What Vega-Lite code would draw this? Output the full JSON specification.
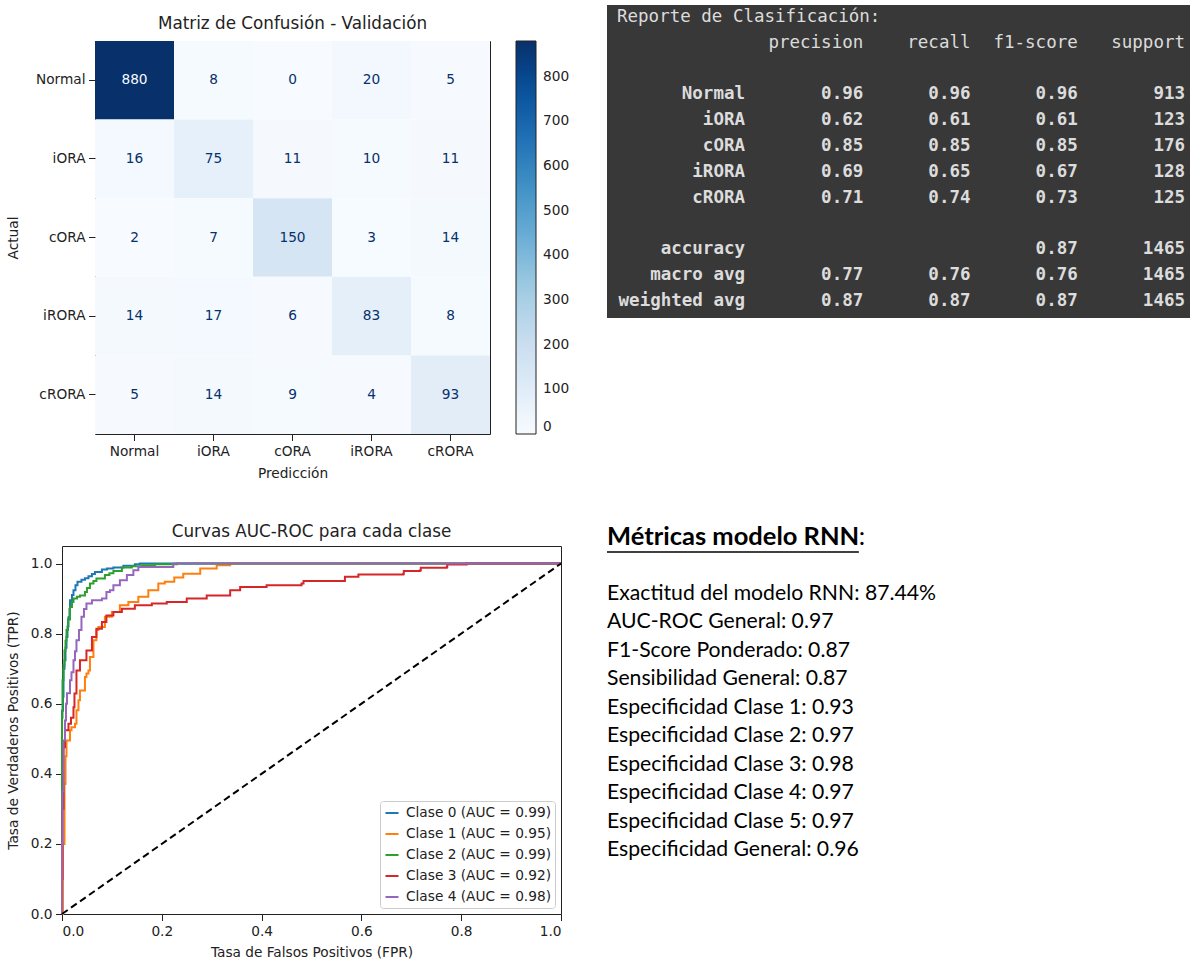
{
  "$schema": "https://vega.github.io/schema/vega-lite/v6.json",
  "padding": {"left": 4, "top": 5, "right": 0, "bottom": 0},
  "background": "white",
  "spacing": 35,
  "resolve": {"scale": {"color": "independent"}, "legend": {"color": "independent"}},
  "config": {
    "font": "DejaVu Sans",
    "view": {"stroke": null},
    "axis": {"labelFont": "DejaVu Sans", "titleFont": "DejaVu Sans", "labelColor": "#222", "titleColor": "#222", "tickColor": "#222", "domain": false, "grid": false, "labelFontSize": 13.7, "titleFontSize": 13.7, "titleFontWeight": "normal", "tickSize": 6.5, "labelPadding": 3.5},
    "title": {"font": "DejaVu Sans", "fontSize": 16.8, "fontWeight": "normal", "color": "#222"},
    "legend": {"labelFont": "DejaVu Sans", "labelFontSize": 13.7, "labelColor": "#222"}
  },
  "datasets": {
    "vacio": [],
    "confusion": [
      {"actual": "Normal", "prediccion": "Normal", "conteo": 880},
      {"actual": "Normal", "prediccion": "iORA", "conteo": 8},
      {"actual": "Normal", "prediccion": "cORA", "conteo": 0},
      {"actual": "Normal", "prediccion": "iRORA", "conteo": 20},
      {"actual": "Normal", "prediccion": "cRORA", "conteo": 5},
      {"actual": "iORA", "prediccion": "Normal", "conteo": 16},
      {"actual": "iORA", "prediccion": "iORA", "conteo": 75},
      {"actual": "iORA", "prediccion": "cORA", "conteo": 11},
      {"actual": "iORA", "prediccion": "iRORA", "conteo": 10},
      {"actual": "iORA", "prediccion": "cRORA", "conteo": 11},
      {"actual": "cORA", "prediccion": "Normal", "conteo": 2},
      {"actual": "cORA", "prediccion": "iORA", "conteo": 7},
      {"actual": "cORA", "prediccion": "cORA", "conteo": 150},
      {"actual": "cORA", "prediccion": "iRORA", "conteo": 3},
      {"actual": "cORA", "prediccion": "cRORA", "conteo": 14},
      {"actual": "iRORA", "prediccion": "Normal", "conteo": 14},
      {"actual": "iRORA", "prediccion": "iORA", "conteo": 17},
      {"actual": "iRORA", "prediccion": "cORA", "conteo": 6},
      {"actual": "iRORA", "prediccion": "iRORA", "conteo": 83},
      {"actual": "iRORA", "prediccion": "cRORA", "conteo": 8},
      {"actual": "cRORA", "prediccion": "Normal", "conteo": 5},
      {"actual": "cRORA", "prediccion": "iORA", "conteo": 14},
      {"actual": "cRORA", "prediccion": "cORA", "conteo": 9},
      {"actual": "cRORA", "prediccion": "iRORA", "conteo": 4},
      {"actual": "cRORA", "prediccion": "cRORA", "conteo": 93}
    ],
    "reporte": [
      {"clase": "Normal", "precision": 0.96, "recall": 0.96, "f1-score": 0.96, "support": 913},
      {"clase": "iORA", "precision": 0.62, "recall": 0.61, "f1-score": 0.61, "support": 123},
      {"clase": "cORA", "precision": 0.85, "recall": 0.85, "f1-score": 0.85, "support": 176},
      {"clase": "iRORA", "precision": 0.69, "recall": 0.65, "f1-score": 0.67, "support": 128},
      {"clase": "cRORA", "precision": 0.71, "recall": 0.74, "f1-score": 0.73, "support": 125},
      {"clase": "accuracy", "f1-score": 0.87, "support": 1465},
      {"clase": "macro avg", "precision": 0.77, "recall": 0.76, "f1-score": 0.76, "support": 1465},
      {"clase": "weighted avg", "precision": 0.87, "recall": 0.87, "f1-score": 0.87, "support": 1465}
    ],
    "metricas": [
      {"metrica": "Exactitud del modelo RNN", "valor": "87.44%"},
      {"metrica": "AUC-ROC General", "valor": "0.97"},
      {"metrica": "F1-Score Ponderado", "valor": "0.87"},
      {"metrica": "Sensibilidad General", "valor": "0.87"},
      {"metrica": "Especificidad Clase 1", "valor": "0.93"},
      {"metrica": "Especificidad Clase 2", "valor": "0.97"},
      {"metrica": "Especificidad Clase 3", "valor": "0.98"},
      {"metrica": "Especificidad Clase 4", "valor": "0.97"},
      {"metrica": "Especificidad Clase 5", "valor": "0.97"},
      {"metrica": "Especificidad General", "valor": "0.96"}
    ],
    "roc": [
      {"clase": "Clase 0 (AUC = 0.99)", "fpr": 0, "tpr": 0},
      {"clase": "Clase 0 (AUC = 0.99)", "fpr": 0, "tpr": 0.58},
      {"clase": "Clase 0 (AUC = 0.99)", "fpr": 0.002, "tpr": 0.62},
      {"clase": "Clase 0 (AUC = 0.99)", "fpr": 0.003, "tpr": 0.7},
      {"clase": "Clase 0 (AUC = 0.99)", "fpr": 0.005, "tpr": 0.724},
      {"clase": "Clase 0 (AUC = 0.99)", "fpr": 0.007, "tpr": 0.76},
      {"clase": "Clase 0 (AUC = 0.99)", "fpr": 0.009, "tpr": 0.79},
      {"clase": "Clase 0 (AUC = 0.99)", "fpr": 0.011, "tpr": 0.82},
      {"clase": "Clase 0 (AUC = 0.99)", "fpr": 0.013, "tpr": 0.847},
      {"clase": "Clase 0 (AUC = 0.99)", "fpr": 0.015, "tpr": 0.87},
      {"clase": "Clase 0 (AUC = 0.99)", "fpr": 0.016, "tpr": 0.895},
      {"clase": "Clase 0 (AUC = 0.99)", "fpr": 0.02, "tpr": 0.91},
      {"clase": "Clase 0 (AUC = 0.99)", "fpr": 0.023, "tpr": 0.924},
      {"clase": "Clase 0 (AUC = 0.99)", "fpr": 0.027, "tpr": 0.938},
      {"clase": "Clase 0 (AUC = 0.99)", "fpr": 0.031, "tpr": 0.948},
      {"clase": "Clase 0 (AUC = 0.99)", "fpr": 0.039, "tpr": 0.954},
      {"clase": "Clase 0 (AUC = 0.99)", "fpr": 0.046, "tpr": 0.958},
      {"clase": "Clase 0 (AUC = 0.99)", "fpr": 0.053, "tpr": 0.964},
      {"clase": "Clase 0 (AUC = 0.99)", "fpr": 0.06, "tpr": 0.97},
      {"clase": "Clase 0 (AUC = 0.99)", "fpr": 0.066, "tpr": 0.976},
      {"clase": "Clase 0 (AUC = 0.99)", "fpr": 0.08, "tpr": 0.983},
      {"clase": "Clase 0 (AUC = 0.99)", "fpr": 0.09, "tpr": 0.986},
      {"clase": "Clase 0 (AUC = 0.99)", "fpr": 0.103, "tpr": 0.989},
      {"clase": "Clase 0 (AUC = 0.99)", "fpr": 0.123, "tpr": 0.994},
      {"clase": "Clase 0 (AUC = 0.99)", "fpr": 0.146, "tpr": 0.998},
      {"clase": "Clase 0 (AUC = 0.99)", "fpr": 0.156, "tpr": 1.0},
      {"clase": "Clase 0 (AUC = 0.99)", "fpr": 1, "tpr": 1.0},
      {"clase": "Clase 1 (AUC = 0.95)", "fpr": 0, "tpr": 0},
      {"clase": "Clase 1 (AUC = 0.95)", "fpr": 0.002, "tpr": 0.2},
      {"clase": "Clase 1 (AUC = 0.95)", "fpr": 0.005, "tpr": 0.371},
      {"clase": "Clase 1 (AUC = 0.95)", "fpr": 0.007, "tpr": 0.45},
      {"clase": "Clase 1 (AUC = 0.95)", "fpr": 0.009, "tpr": 0.495},
      {"clase": "Clase 1 (AUC = 0.95)", "fpr": 0.016, "tpr": 0.524},
      {"clase": "Clase 1 (AUC = 0.95)", "fpr": 0.019, "tpr": 0.533},
      {"clase": "Clase 1 (AUC = 0.95)", "fpr": 0.026, "tpr": 0.543},
      {"clase": "Clase 1 (AUC = 0.95)", "fpr": 0.029, "tpr": 0.581},
      {"clase": "Clase 1 (AUC = 0.95)", "fpr": 0.033, "tpr": 0.61},
      {"clase": "Clase 1 (AUC = 0.95)", "fpr": 0.036, "tpr": 0.638},
      {"clase": "Clase 1 (AUC = 0.95)", "fpr": 0.046, "tpr": 0.676},
      {"clase": "Clase 1 (AUC = 0.95)", "fpr": 0.049, "tpr": 0.686},
      {"clase": "Clase 1 (AUC = 0.95)", "fpr": 0.053, "tpr": 0.695},
      {"clase": "Clase 1 (AUC = 0.95)", "fpr": 0.056, "tpr": 0.733},
      {"clase": "Clase 1 (AUC = 0.95)", "fpr": 0.063, "tpr": 0.781},
      {"clase": "Clase 1 (AUC = 0.95)", "fpr": 0.069, "tpr": 0.81},
      {"clase": "Clase 1 (AUC = 0.95)", "fpr": 0.073, "tpr": 0.819},
      {"clase": "Clase 1 (AUC = 0.95)", "fpr": 0.086, "tpr": 0.848},
      {"clase": "Clase 1 (AUC = 0.95)", "fpr": 0.1, "tpr": 0.862},
      {"clase": "Clase 1 (AUC = 0.95)", "fpr": 0.116, "tpr": 0.881},
      {"clase": "Clase 1 (AUC = 0.95)", "fpr": 0.133, "tpr": 0.89},
      {"clase": "Clase 1 (AUC = 0.95)", "fpr": 0.153, "tpr": 0.905},
      {"clase": "Clase 1 (AUC = 0.95)", "fpr": 0.173, "tpr": 0.924},
      {"clase": "Clase 1 (AUC = 0.95)", "fpr": 0.193, "tpr": 0.943},
      {"clase": "Clase 1 (AUC = 0.95)", "fpr": 0.206, "tpr": 0.948},
      {"clase": "Clase 1 (AUC = 0.95)", "fpr": 0.225, "tpr": 0.96},
      {"clase": "Clase 1 (AUC = 0.95)", "fpr": 0.243, "tpr": 0.971},
      {"clase": "Clase 1 (AUC = 0.95)", "fpr": 0.277, "tpr": 0.986},
      {"clase": "Clase 1 (AUC = 0.95)", "fpr": 0.31, "tpr": 0.995},
      {"clase": "Clase 1 (AUC = 0.95)", "fpr": 0.337, "tpr": 1.0},
      {"clase": "Clase 1 (AUC = 0.95)", "fpr": 1, "tpr": 1.0},
      {"clase": "Clase 2 (AUC = 0.99)", "fpr": 0, "tpr": 0},
      {"clase": "Clase 2 (AUC = 0.99)", "fpr": 0, "tpr": 0.56},
      {"clase": "Clase 2 (AUC = 0.99)", "fpr": 0.001, "tpr": 0.667},
      {"clase": "Clase 2 (AUC = 0.99)", "fpr": 0.003, "tpr": 0.71},
      {"clase": "Clase 2 (AUC = 0.99)", "fpr": 0.005, "tpr": 0.752},
      {"clase": "Clase 2 (AUC = 0.99)", "fpr": 0.007, "tpr": 0.78},
      {"clase": "Clase 2 (AUC = 0.99)", "fpr": 0.009, "tpr": 0.81},
      {"clase": "Clase 2 (AUC = 0.99)", "fpr": 0.012, "tpr": 0.84},
      {"clase": "Clase 2 (AUC = 0.99)", "fpr": 0.016, "tpr": 0.876},
      {"clase": "Clase 2 (AUC = 0.99)", "fpr": 0.02, "tpr": 0.89},
      {"clase": "Clase 2 (AUC = 0.99)", "fpr": 0.023, "tpr": 0.9},
      {"clase": "Clase 2 (AUC = 0.99)", "fpr": 0.03, "tpr": 0.905},
      {"clase": "Clase 2 (AUC = 0.99)", "fpr": 0.036, "tpr": 0.909},
      {"clase": "Clase 2 (AUC = 0.99)", "fpr": 0.046, "tpr": 0.919},
      {"clase": "Clase 2 (AUC = 0.99)", "fpr": 0.05, "tpr": 0.93},
      {"clase": "Clase 2 (AUC = 0.99)", "fpr": 0.056, "tpr": 0.943},
      {"clase": "Clase 2 (AUC = 0.99)", "fpr": 0.063, "tpr": 0.95},
      {"clase": "Clase 2 (AUC = 0.99)", "fpr": 0.069, "tpr": 0.957},
      {"clase": "Clase 2 (AUC = 0.99)", "fpr": 0.086, "tpr": 0.967},
      {"clase": "Clase 2 (AUC = 0.99)", "fpr": 0.095, "tpr": 0.972},
      {"clase": "Clase 2 (AUC = 0.99)", "fpr": 0.103, "tpr": 0.979},
      {"clase": "Clase 2 (AUC = 0.99)", "fpr": 0.12, "tpr": 0.989},
      {"clase": "Clase 2 (AUC = 0.99)", "fpr": 0.14, "tpr": 0.992},
      {"clase": "Clase 2 (AUC = 0.99)", "fpr": 0.16, "tpr": 0.995},
      {"clase": "Clase 2 (AUC = 0.99)", "fpr": 0.186, "tpr": 0.998},
      {"clase": "Clase 2 (AUC = 0.99)", "fpr": 0.23, "tpr": 1.0},
      {"clase": "Clase 2 (AUC = 0.99)", "fpr": 1, "tpr": 1.0},
      {"clase": "Clase 3 (AUC = 0.92)", "fpr": 0, "tpr": 0},
      {"clase": "Clase 3 (AUC = 0.92)", "fpr": 0, "tpr": 0.1},
      {"clase": "Clase 3 (AUC = 0.92)", "fpr": 0.001, "tpr": 0.3},
      {"clase": "Clase 3 (AUC = 0.92)", "fpr": 0.003, "tpr": 0.476},
      {"clase": "Clase 3 (AUC = 0.92)", "fpr": 0.006, "tpr": 0.524},
      {"clase": "Clase 3 (AUC = 0.92)", "fpr": 0.013, "tpr": 0.543},
      {"clase": "Clase 3 (AUC = 0.92)", "fpr": 0.018, "tpr": 0.56},
      {"clase": "Clase 3 (AUC = 0.92)", "fpr": 0.023, "tpr": 0.59},
      {"clase": "Clase 3 (AUC = 0.92)", "fpr": 0.025, "tpr": 0.629},
      {"clase": "Clase 3 (AUC = 0.92)", "fpr": 0.029, "tpr": 0.695},
      {"clase": "Clase 3 (AUC = 0.92)", "fpr": 0.036, "tpr": 0.724},
      {"clase": "Clase 3 (AUC = 0.92)", "fpr": 0.049, "tpr": 0.752},
      {"clase": "Clase 3 (AUC = 0.92)", "fpr": 0.06, "tpr": 0.79},
      {"clase": "Clase 3 (AUC = 0.92)", "fpr": 0.069, "tpr": 0.814},
      {"clase": "Clase 3 (AUC = 0.92)", "fpr": 0.08, "tpr": 0.833},
      {"clase": "Clase 3 (AUC = 0.92)", "fpr": 0.089, "tpr": 0.852},
      {"clase": "Clase 3 (AUC = 0.92)", "fpr": 0.103, "tpr": 0.862},
      {"clase": "Clase 3 (AUC = 0.92)", "fpr": 0.12, "tpr": 0.871},
      {"clase": "Clase 3 (AUC = 0.92)", "fpr": 0.146, "tpr": 0.881},
      {"clase": "Clase 3 (AUC = 0.92)", "fpr": 0.18, "tpr": 0.886},
      {"clase": "Clase 3 (AUC = 0.92)", "fpr": 0.21, "tpr": 0.89},
      {"clase": "Clase 3 (AUC = 0.92)", "fpr": 0.25, "tpr": 0.9},
      {"clase": "Clase 3 (AUC = 0.92)", "fpr": 0.29, "tpr": 0.909},
      {"clase": "Clase 3 (AUC = 0.92)", "fpr": 0.337, "tpr": 0.924},
      {"clase": "Clase 3 (AUC = 0.92)", "fpr": 0.357, "tpr": 0.933},
      {"clase": "Clase 3 (AUC = 0.92)", "fpr": 0.41, "tpr": 0.938},
      {"clase": "Clase 3 (AUC = 0.92)", "fpr": 0.48, "tpr": 0.943},
      {"clase": "Clase 3 (AUC = 0.92)", "fpr": 0.484, "tpr": 0.95},
      {"clase": "Clase 3 (AUC = 0.92)", "fpr": 0.56, "tpr": 0.95},
      {"clase": "Clase 3 (AUC = 0.92)", "fpr": 0.567, "tpr": 0.962},
      {"clase": "Clase 3 (AUC = 0.92)", "fpr": 0.594, "tpr": 0.969},
      {"clase": "Clase 3 (AUC = 0.92)", "fpr": 0.684, "tpr": 0.971},
      {"clase": "Clase 3 (AUC = 0.92)", "fpr": 0.685, "tpr": 0.979},
      {"clase": "Clase 3 (AUC = 0.92)", "fpr": 0.717, "tpr": 0.98},
      {"clase": "Clase 3 (AUC = 0.92)", "fpr": 0.719, "tpr": 0.988},
      {"clase": "Clase 3 (AUC = 0.92)", "fpr": 0.771, "tpr": 0.99},
      {"clase": "Clase 3 (AUC = 0.92)", "fpr": 0.772, "tpr": 0.997},
      {"clase": "Clase 3 (AUC = 0.92)", "fpr": 0.81, "tpr": 0.997},
      {"clase": "Clase 3 (AUC = 0.92)", "fpr": 0.811, "tpr": 1.0},
      {"clase": "Clase 3 (AUC = 0.92)", "fpr": 1, "tpr": 1.0},
      {"clase": "Clase 4 (AUC = 0.98)", "fpr": 0, "tpr": 0},
      {"clase": "Clase 4 (AUC = 0.98)", "fpr": 0, "tpr": 0.2},
      {"clase": "Clase 4 (AUC = 0.98)", "fpr": 0.001, "tpr": 0.35},
      {"clase": "Clase 4 (AUC = 0.98)", "fpr": 0.003, "tpr": 0.495},
      {"clase": "Clase 4 (AUC = 0.98)", "fpr": 0.006, "tpr": 0.552},
      {"clase": "Clase 4 (AUC = 0.98)", "fpr": 0.008, "tpr": 0.6},
      {"clase": "Clase 4 (AUC = 0.98)", "fpr": 0.01, "tpr": 0.63},
      {"clase": "Clase 4 (AUC = 0.98)", "fpr": 0.016, "tpr": 0.667},
      {"clase": "Clase 4 (AUC = 0.98)", "fpr": 0.019, "tpr": 0.69},
      {"clase": "Clase 4 (AUC = 0.98)", "fpr": 0.023, "tpr": 0.724},
      {"clase": "Clase 4 (AUC = 0.98)", "fpr": 0.026, "tpr": 0.75},
      {"clase": "Clase 4 (AUC = 0.98)", "fpr": 0.029, "tpr": 0.781},
      {"clase": "Clase 4 (AUC = 0.98)", "fpr": 0.034, "tpr": 0.81},
      {"clase": "Clase 4 (AUC = 0.98)", "fpr": 0.039, "tpr": 0.848},
      {"clase": "Clase 4 (AUC = 0.98)", "fpr": 0.044, "tpr": 0.87},
      {"clase": "Clase 4 (AUC = 0.98)", "fpr": 0.049, "tpr": 0.886},
      {"clase": "Clase 4 (AUC = 0.98)", "fpr": 0.06, "tpr": 0.895},
      {"clase": "Clase 4 (AUC = 0.98)", "fpr": 0.08, "tpr": 0.9},
      {"clase": "Clase 4 (AUC = 0.98)", "fpr": 0.089, "tpr": 0.919},
      {"clase": "Clase 4 (AUC = 0.98)", "fpr": 0.096, "tpr": 0.924},
      {"clase": "Clase 4 (AUC = 0.98)", "fpr": 0.103, "tpr": 0.938},
      {"clase": "Clase 4 (AUC = 0.98)", "fpr": 0.116, "tpr": 0.952},
      {"clase": "Clase 4 (AUC = 0.98)", "fpr": 0.13, "tpr": 0.967},
      {"clase": "Clase 4 (AUC = 0.98)", "fpr": 0.143, "tpr": 0.981},
      {"clase": "Clase 4 (AUC = 0.98)", "fpr": 0.153, "tpr": 0.99},
      {"clase": "Clase 4 (AUC = 0.98)", "fpr": 0.206, "tpr": 0.99},
      {"clase": "Clase 4 (AUC = 0.98)", "fpr": 0.223, "tpr": 1.0},
      {"clase": "Clase 4 (AUC = 0.98)", "fpr": 1, "tpr": 1.0}
    ]
  },
  "hconcat": [
    {
      "spacing": 0,
      "resolve": {"scale": {"color": "independent"}, "legend": {"color": "independent"}},
      "vconcat": [
        {"width": 1, "height": 10, "data": {"name": "vacio"}, "mark": {"type": "point", "opacity": 0}},
        {
          "spacing": 42,
          "resolve": {"scale": {"color": "independent"}, "legend": {"color": "independent"}},
          "vconcat": [
            {
              "spacing": 0,
              "resolve": {"scale": {"color": "independent"}, "legend": {"color": "independent"}},
              "hconcat": [
                {"width": 1, "height": 1, "data": {"name": "vacio"}, "mark": {"type": "point", "opacity": 0}},
                {
                  "title": {"text": "Matriz de Confusión - Validación", "offset": 8},
                  "width": 395,
                  "height": 393,
                  "view": {"stroke": "#222", "strokeWidth": 1},
                  "data": {"name": "confusion"},
                  "encoding": {
                    "x": {"field": "prediccion", "type": "nominal", "sort": ["Normal", "iORA", "cORA", "iRORA", "cRORA"], "title": "Predicción", "scale": {"paddingInner": 0, "paddingOuter": 0}, "axis": {"labelAngle": 0, "titlePadding": 9}},
                    "y": {"field": "actual", "type": "nominal", "sort": ["Normal", "iORA", "cORA", "iRORA", "cRORA"], "title": "Actual", "scale": {"paddingInner": 0, "paddingOuter": 0}, "axis": {"titlePadding": 15}}
                  },
                  "layer": [
                    {
                      "mark": {"type": "rect"},
                      "encoding": {
                        "color": {
                          "field": "conteo", "type": "quantitative",
                          "scale": {"domain": [0, 110, 220, 330, 440, 550, 660, 770, 880], "range": ["#f7fbff", "#deebf7", "#c6dbef", "#9ecae1", "#6baed6", "#4292c6", "#2171b5", "#08519c", "#08306b"], "interpolate": "rgb"},
                          "legend": {"title": null, "orient": "right", "offset": 26, "direction": "vertical", "gradientLength": 393, "gradientThickness": 20, "gradientStrokeColor": "#222", "gradientStrokeWidth": 1, "values": [0, 100, 200, 300, 400, 500, 600, 700, 800], "labelOffset": 7, "labelOverlap": false, "labelBaseline": "middle", "padding": 0}
                        }
                      }
                    },
                    {
                      "mark": {"type": "text", "fontSize": 13.7, "font": "DejaVu Sans"},
                      "encoding": {
                        "text": {"field": "conteo", "type": "quantitative"},
                        "color": {"condition": {"test": "datum.conteo > 440", "value": "#f7fbff"}, "value": "#08306b"}
                      }
                    }
                  ]
                }
              ]
            },
            {
              "spacing": 0,
              "resolve": {"scale": {"color": "independent"}, "legend": {"color": "independent"}},
              "hconcat": [
                {"width": 1, "height": 1, "data": {"name": "vacio"}, "mark": {"type": "point", "opacity": 0}},
                {
                  "title": {"text": "Curvas AUC-ROC para cada clase", "offset": 5},
                  "width": 499,
                  "height": 368,
                  "view": {"stroke": "#222", "strokeWidth": 1},
                  "layer": [
                    {
                      "data": {"name": "roc"},
                      "mark": {"type": "line", "strokeWidth": 2, "interpolate": "step-after"},
                      "encoding": {
                        "x": {"field": "fpr", "type": "quantitative", "scale": {"domain": [0, 1], "nice": false}, "axis": {"values": [0, 0.2, 0.4, 0.6, 0.8, 1], "format": ".1f", "title": "Tasa de Falsos Positivos (FPR)", "titlePadding": 8}},
                        "y": {"field": "tpr", "type": "quantitative", "scale": {"domain": [0, 1.05], "nice": false}, "axis": {"values": [0, 0.2, 0.4, 0.6, 0.8, 1], "format": ".1f", "title": "Tasa de Verdaderos Positivos (TPR)", "titlePadding": 10}},
                        "color": {
                          "field": "clase", "type": "nominal",
                          "scale": {"domain": ["Clase 0 (AUC = 0.99)", "Clase 1 (AUC = 0.95)", "Clase 2 (AUC = 0.99)", "Clase 3 (AUC = 0.92)", "Clase 4 (AUC = 0.98)"], "range": ["#1f77b4", "#ff7f0e", "#2ca02c", "#d62728", "#9467bd"]},
                          "legend": {"title": null, "orient": "bottom-right", "offset": 6, "fillColor": "white", "strokeColor": "#cccccc", "cornerRadius": 3, "padding": 4, "symbolType": "stroke", "symbolStrokeWidth": 2, "symbolSize": 170, "labelFontSize": 13.7, "rowPadding": 6, "labelOffset": 6}
                        },
                        "order": [{"field": "fpr"}, {"field": "tpr"}]
                      }
                    },
                    {
                      "data": {"values": [{}]},
                      "mark": {"type": "rule", "strokeDash": [7, 4], "strokeWidth": 2, "color": "#000"},
                      "encoding": {"x": {"datum": 0}, "y": {"datum": 0}, "x2": {"datum": 1}, "y2": {"datum": 1}}
                    }
                  ]
                }
              ]
            }
          ]
        }
      ]
    },
    {
      "spacing": 207,
      "vconcat": [
        {
          "width": 583,
          "height": 313,
          "view": {"fill": "#383838", "stroke": null},
          "layer": [
            {
              "data": {"values": [{"t": "Reporte de Clasificación:"}]},
              "mark": {"type": "text", "align": "left", "baseline": "middle", "dx": -139, "font": "DejaVu Sans Mono", "fontSize": 17.5, "color": "#dcdcdc"},
              "encoding": {
                "x": {"datum": "clase", "type": "nominal", "scale": {"type": "point", "domain": ["clase", "precision", "recall", "f1-score", "support"], "range": [149, 578], "padding": 0}, "axis": null},
                "y": {"datum": "titulo", "type": "nominal", "scale": {"type": "point", "domain": ["titulo", "encabezado", "sep1", "Normal", "iORA", "cORA", "iRORA", "cRORA", "sep2", "accuracy", "macro avg", "weighted avg"], "range": [12, 296], "padding": 0}, "axis": null},
                "text": {"field": "t"}
              }
            },
            {
              "data": {"values": [{"columna": "precision"}, {"columna": "recall"}, {"columna": "f1-score"}, {"columna": "support"}]},
              "mark": {"type": "text", "align": "right", "baseline": "middle", "font": "DejaVu Sans Mono", "fontSize": 17.5, "color": "#dcdcdc"},
              "encoding": {
                "x": {"field": "columna", "type": "nominal", "scale": {"type": "point", "domain": ["clase", "precision", "recall", "f1-score", "support"], "range": [149, 578], "padding": 0}, "axis": null},
                "y": {"datum": "encabezado", "type": "nominal", "scale": {"type": "point", "domain": ["titulo", "encabezado", "sep1", "Normal", "iORA", "cORA", "iRORA", "cRORA", "sep2", "accuracy", "macro avg", "weighted avg"], "range": [12, 296], "padding": 0}, "axis": null},
                "text": {"field": "columna"}
              }
            },
            {
              "data": {"name": "reporte"},
              "mark": {"type": "text", "align": "right", "baseline": "middle", "dx": -11, "font": "DejaVu Sans Mono", "fontSize": 17.5, "fontWeight": "bold", "color": "#dcdcdc"},
              "encoding": {
                "x": {"datum": "clase", "type": "nominal", "scale": {"type": "point", "domain": ["clase", "precision", "recall", "f1-score", "support"], "range": [149, 578], "padding": 0}, "axis": null},
                "y": {"field": "clase", "type": "nominal", "scale": {"type": "point", "domain": ["titulo", "encabezado", "sep1", "Normal", "iORA", "cORA", "iRORA", "cRORA", "sep2", "accuracy", "macro avg", "weighted avg"], "range": [12, 296], "padding": 0}, "axis": null},
                "text": {"field": "clase"}
              }
            },
            {
              "data": {"name": "reporte"},
              "transform": [
                {"fold": ["precision", "recall", "f1-score", "support"], "as": ["columna", "valor"]},
                {"filter": "datum.valor != null"},
                {"calculate": "datum.columna == 'support' ? format(datum.valor, 'd') : format(datum.valor, '.2f')", "as": "texto"}
              ],
              "mark": {"type": "text", "align": "right", "baseline": "middle", "font": "DejaVu Sans Mono", "fontSize": 17.5, "fontWeight": "bold", "color": "#dcdcdc"},
              "encoding": {
                "x": {"field": "columna", "type": "nominal", "scale": {"type": "point", "domain": ["clase", "precision", "recall", "f1-score", "support"], "range": [149, 578], "padding": 0}, "axis": null},
                "y": {"field": "clase", "type": "nominal", "scale": {"type": "point", "domain": ["titulo", "encabezado", "sep1", "Normal", "iORA", "cORA", "iRORA", "cRORA", "sep2", "accuracy", "macro avg", "weighted avg"], "range": [12, 296], "padding": 0}, "axis": null},
                "text": {"field": "texto"}
              }
            }
          ]
        },
        {
          "width": 583,
          "height": 313,
          "view": {"stroke": null},
          "layer": [
            {
              "data": {"values": [{"t": "Métricas modelo RNN"}]},
              "mark": {"type": "text", "align": "left", "baseline": "middle", "font": "Lato", "fontSize": 25.5, "fontWeight": "bold", "color": "#000"},
              "encoding": {
                "x": {"datum": 0, "type": "quantitative", "scale": {"domain": [0, 1], "nice": false, "zero": false}, "axis": null},
                "y": {"datum": "Métricas modelo RNN", "type": "nominal", "scale": {"type": "point", "padding": 0, "domain": ["Métricas modelo RNN", "_", "Exactitud del modelo RNN", "AUC-ROC General", "F1-Score Ponderado", "Sensibilidad General", "Especificidad Clase 1", "Especificidad Clase 2", "Especificidad Clase 3", "Especificidad Clase 4", "Especificidad Clase 5", "Especificidad General"]}, "axis": null},
                "text": {"field": "t"}
              }
            },
            {
              "data": {"values": [{"t": ":"}]},
              "mark": {"type": "text", "align": "left", "baseline": "middle", "font": "Lato", "fontSize": 25.5, "color": "#000"},
              "encoding": {
                "x": {"datum": 0.432, "type": "quantitative"},
                "y": {"datum": "Métricas modelo RNN", "type": "nominal"},
                "text": {"field": "t"}
              }
            },
            {
              "data": {"values": [{}]},
              "mark": {"type": "rule", "strokeWidth": 1.6, "color": "#000", "yOffset": 15},
              "encoding": {
                "x": {"datum": 0, "type": "quantitative"},
                "x2": {"datum": 0.432},
                "y": {"datum": "Métricas modelo RNN", "type": "nominal"}
              }
            },
            {
              "data": {"name": "metricas"},
              "transform": [{"calculate": "datum.metrica + ': ' + datum.valor", "as": "linea"}],
              "mark": {"type": "text", "align": "left", "baseline": "middle", "font": "Lato", "fontSize": 21.2, "color": "#000"},
              "encoding": {
                "x": {"datum": 0, "type": "quantitative"},
                "y": {"field": "metrica", "type": "nominal"},
                "text": {"field": "linea"}
              }
            }
          ]
        }
      ]
    }
  ]
}
